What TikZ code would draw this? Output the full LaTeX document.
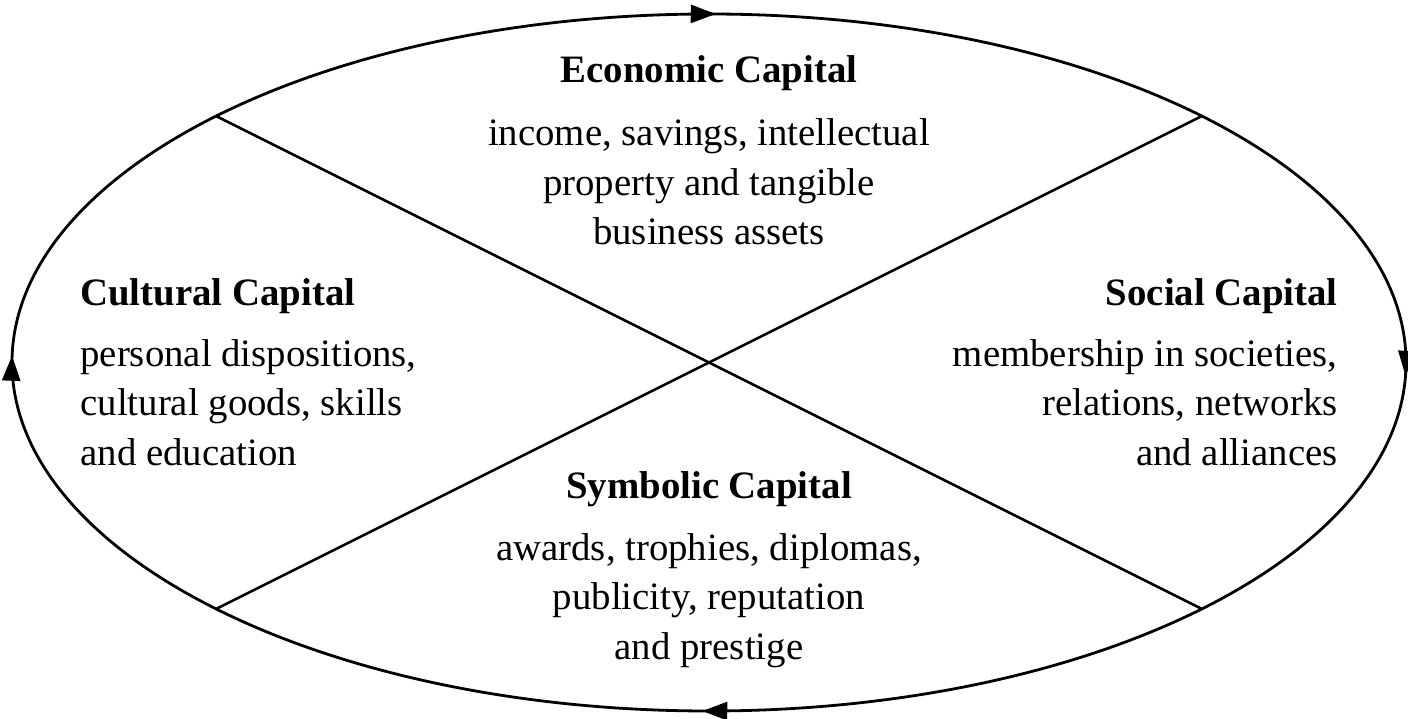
\documentclass[tikz,border=0pt]{standalone}
\usepackage{fontspec}
\setmainfont{Liberation Serif}
\usepackage{tikz}
\usetikzlibrary{calc,decorations.markings,arrows.meta}

\begin{document}
\begin{tikzpicture}[x=0.5pt, y=0.5pt, >={Triangle[length=12.5pt,width=9pt]},
    cycle/.style={line width=1.4pt, postaction={decorate}, decoration={markings,
        mark=at position 0.002 with {\arrow{>}},
        mark=at position 0.252 with {\arrow{>}},
        mark=at position 0.504 with {\arrow{>}},
        mark=at position 0.752 with {\arrow{>}}}},
    divider/.style={line width=1.3pt},
    txt/.style={inner sep=0pt, font=\fontsize{19.4}{24.75}\selectfont},
    head/.style={inner sep=0pt, font=\fontsize{19.4}{24.75}\selectfont\bfseries}]
    \useasboundingbox (0,0) rectangle (1408,718);

    % Ellipse
    \coordinate (C) at (709,355.5);
    \draw[cycle] (C) ++(180:697 and 348.5)
        arc[start angle=180, end angle=-180, x radius=697, y radius=348.5];

    % Dividing lines
    \coordinate (NW) at ($(C)+(135:697 and 348.5)$);
    \coordinate (NE) at ($(C)+(45:697 and 348.5)$);
    \coordinate (SW) at ($(C)+(225:697 and 348.5)$);
    \coordinate (SE) at ($(C)+(315:697 and 348.5)$);
    \draw[divider] (NW) -- (SE);
    \draw[divider] (NE) -- (SW);

    % Economic (base = last line)
    \node[head, anchor=base] (econ) at (709,635) {Economic Capital};
    \node[txt, anchor=base, align=center] (econtxt) at (709,473)
        {income, savings, intellectual\\property and tangible\\business assets};

    % Cultural
    \node[head, anchor=base west] (cult) at (80,412) {Cultural Capital};
    \node[txt, anchor=base west, align=left] (culttxt) at (80,252.5)
        {personal dispositions,\\cultural goods, skills\\and education};

    % Social
    \node[head, anchor=base east] (soc) at (1338,412) {Social Capital};
    \node[txt, anchor=base east, align=right] (soctxt) at (1338,252.5)
        {membership in societies,\\relations, networks\\and alliances};

    % Symbolic
    \node[head, anchor=base] (symb) at (709,220) {Symbolic Capital};
    \node[txt, anchor=base, align=center] (symbtxt) at (709,59)
        {awards, trophies, diplomas,\\publicity, reputation\\and prestige};
\end{tikzpicture}
\end{document}
